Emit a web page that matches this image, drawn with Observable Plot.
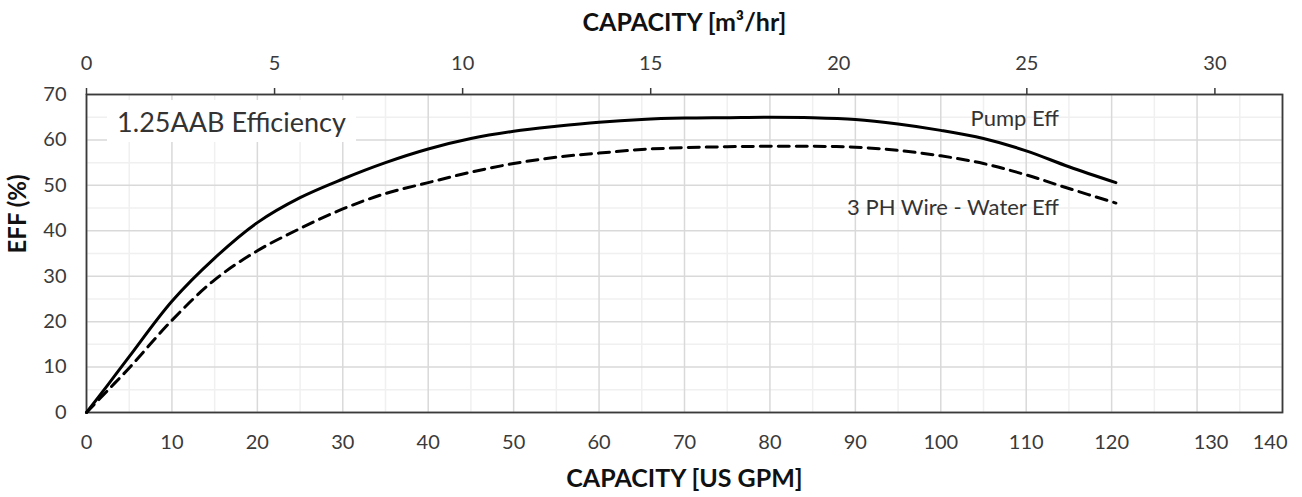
<!DOCTYPE html>
<html>
<head>
<meta charset="utf-8">
<script src="https://cdn.jsdelivr.net/npm/d3@7"></script>
<script src="https://cdn.jsdelivr.net/npm/@observablehq/plot@0.6"></script>
<style>
  body { margin: 0; background: #fff; }
  #wrap { position: relative; width: 1302px; height: 497px; font-family: Lato, "Open Sans", sans-serif; }
  #title { position: absolute; left: 107px; top: 100px; width: 249px; height: 42px; background: #fff;
           font-size: 27px; color: #333; display: flex; align-items: center; justify-content: center; }
</style>
</head>
<body>
<div id="wrap"><div id="chart"></div><div id="title">1.25AAB Efficiency</div></div>
<script>
// Capacity (US GPM)
const gpm = [0, 2.5, 5, 10, 15, 20, 25, 30, 35, 40, 45, 50, 55, 60, 65, 70, 75, 80, 85, 90, 95, 100, 105, 110, 115, 120.5];
// Pump efficiency (%)
const pumpEff = [0, 6.1, 12.3, 24.5, 34.0, 41.8, 47.3, 51.4, 55.0, 58.0, 60.3, 61.9, 63.0, 63.9, 64.5, 64.8, 64.9, 65.0, 64.9, 64.5, 63.5, 62.1, 60.3, 57.6, 54.1, 50.6];
// 3 PH wire-to-water efficiency (%)
const wireWaterEff = [0, 4.9, 9.8, 20.3, 29.2, 35.6, 40.5, 44.8, 48.2, 50.6, 52.9, 54.8, 56.2, 57.1, 57.9, 58.3, 58.5, 58.6, 58.6, 58.4, 57.7, 56.5, 54.8, 52.3, 49.3, 46.1];

const seriesNames = ["Pump Eff", "3 PH Wire - Water Eff"];
const gpmTicks = [0, 10, 20, 30, 40, 50, 60, 70, 80, 90, 100, 110, 120, 130, 140];
const gpmMinor = [5, 15, 25, 35, 45, 55, 65, 75, 85, 95, 105, 115, 125, 135];
const m3hrTicks = [0, 5, 10, 15, 20, 25, 30];
const effTicks = [0, 10, 20, 30, 40, 50, 60, 70];
const effMinor = [5, 15, 25, 35, 45, 55, 65];
const GPM_PER_M3HR = 4.4029;

const pump = gpm.map((x, i) => ({x, y: pumpEff[i]}));
const water = gpm.map((x, i) => ({x, y: wireWaterEff[i]}));
const bold = {fontWeight: "bold", fontSize: 24, fill: "#111", lineAnchor: "middle"};

const chart = Plot.plot({
  width: 1302,
  height: 497,
  marginLeft: 86,
  marginRight: 20,
  marginTop: 94,
  marginBottom: 85,
  style: {fontFamily: "Lato, 'Open Sans', sans-serif", fontSize: "20px", color: "#3a3a3a", background: "#fff"},
  x: {domain: [0, 140]},
  y: {domain: [0, 70]},
  marks: [
    Plot.gridX(gpmMinor, {stroke: "#f0f0f0", strokeOpacity: 1, strokeWidth: 1.5}),
    Plot.gridY(effMinor, {stroke: "#f0f0f0", strokeOpacity: 1, strokeWidth: 1.5}),
    Plot.gridX(gpmTicks, {stroke: "#d9d9d9", strokeOpacity: 1, strokeWidth: 1.5}),
    Plot.gridY(effTicks, {stroke: "#d9d9d9", strokeOpacity: 1, strokeWidth: 1.5}),
    Plot.frame({stroke: "#3a3a3a", strokeWidth: 1.8}),
    Plot.axisY({ticks: effTicks, tickSize: 0, tickPadding: 20, label: null}),
    Plot.axisX({ticks: gpmTicks.filter(d => d <= 120), tickSize: 0, tickPadding: 22, label: null, anchor: "bottom"}),
    Plot.axisX({ticks: [130], tickSize: 0, tickPadding: 22, label: null, anchor: "bottom", dx: 14}),
    Plot.axisX({ticks: [140], tickSize: 0, tickPadding: 22, label: null, anchor: "bottom", textAnchor: "end", dx: 5}),
    Plot.axisX({ticks: m3hrTicks.map(d => d * GPM_PER_M3HR), tickFormat: d => Math.round(d / GPM_PER_M3HR),
                anchor: "top", tickSize: 7, tickPadding: 18, label: null, stroke: "#3a3a3a", strokeWidth: 1.5}),
    Plot.line(water, {x: "x", y: "y", curve: "catmull-rom", stroke: "#000", strokeWidth: 3, strokeDasharray: "11,7"}),
    Plot.line(pump, {x: "x", y: "y", curve: "catmull-rom", stroke: "#000", strokeWidth: 3}),
    Plot.text([pump[pump.length - 1]], {x: "x", y: "y", text: () => seriesNames[0], textAnchor: "end", dx: -57, dy: -64, fill: "#333", fontSize: 22}),
    Plot.text([water[water.length - 1]], {x: "x", y: "y", text: () => seriesNames[1], textAnchor: "end", dx: -57, dy: 5, fill: "#333", fontSize: 22}),
    Plot.text(["EFF (%)"], {frameAnchor: "left", rotate: -90, dx: -68, ...bold}),
    Plot.text(["CAPACITY [US GPM]"], {frameAnchor: "bottom", dy: 66, ...bold, fontSize: 25, letterSpacing: 3}),
    Plot.text(["CAPACITY [m³/hr]"], {frameAnchor: "top", dy: -72, ...bold, fontSize: 25, letterSpacing: 2.5})
  ]
});
document.getElementById("chart").appendChild(chart);
</script>
</body>
</html>
